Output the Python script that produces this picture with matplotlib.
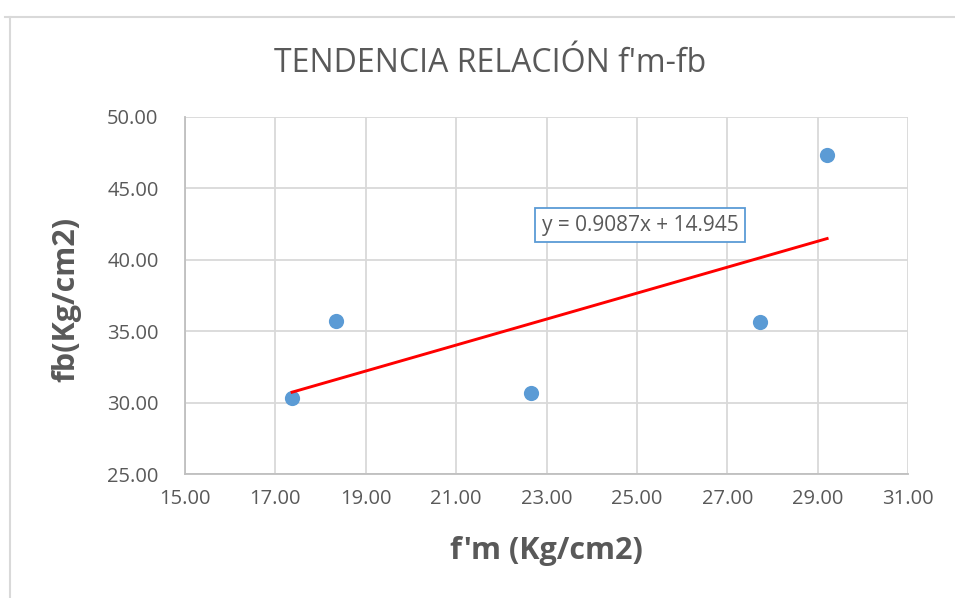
import matplotlib
matplotlib.use("Agg")
import matplotlib.pyplot as plt
from matplotlib.lines import Line2D
import numpy as np

# Data
fm = [17.37, 18.34, 22.66, 27.72, 29.21]
fb = [30.32, 35.71, 30.67, 35.64, 47.35]
slope = 0.9087
intercept = 14.945
x_ticks = [15, 17, 19, 21, 23, 25, 27, 29, 31]
y_ticks = [25, 30, 35, 40, 45, 50]
title = "TENDENCIA RELACIÓN f'm-fb"
xlabel = "f'm (Kg/cm2)"
ylabel = "fb(Kg/cm2)"
eq_text = "y = 0.9087x + 14.945"

W, H = 955, 598
fig = plt.figure(figsize=(W / 100, H / 100), dpi=100)
fig.patch.set_facecolor("white")

# outer chart border (top and left only visible)
fig.add_artist(Line2D([5 / W, 1.0], [1 - 16.5 / H, 1 - 16.5 / H], color="#d9d9d9", lw=1.5))
fig.add_artist(Line2D([9.5 / W, 9.5 / W], [0, 1 - 16.5 / H], color="#d9d9d9", lw=1.5))

ax = fig.add_axes([185 / W, 1 - 474 / H, (908 - 185) / W, (474 - 117) / H])
ax.set_xlim(15, 31)
ax.set_ylim(25, 50)
ax.set_xticks(x_ticks)
ax.set_yticks(y_ticks)
ax.set_xticklabels([f"{v:.2f}" for v in x_ticks])
ax.set_yticklabels([f"{v:.2f}" for v in y_ticks])

ax.grid(True, color="#d9d9d9", lw=1.3, zorder=0)
ax.set_axisbelow(True)
for s in ["top", "right"]:
    ax.spines[s].set_visible(False)
for s in ["left", "bottom"]:
    ax.spines[s].set_color("#bfbfbf")
    ax.spines[s].set_linewidth(1.3)
ax.tick_params(axis="y", length=0, pad=19, labelsize=14.5, colors="#595959")
ax.tick_params(axis="x", length=0, pad=11, labelsize=14.5, colors="#595959")
for lab in ax.get_xticklabels() + ax.get_yticklabels():
    lab.set_family("Open Sans")
    lab.set_color("#595959")

ax.scatter(fm, fb, s=120, color="#5b9bd5", zorder=3, linewidths=0)

xt = np.array([min(fm), max(fm)])
ax.plot(xt, slope * xt + intercept, color="#ff0000", lw=2.1, zorder=4)

ax.text(640 / W, 1 - 225 / H, eq_text, transform=fig.transFigure, ha="center", va="center",
        fontsize=15, color="#595959", family="Open Sans",
        bbox=dict(boxstyle="square,pad=0.3", facecolor="white", edgecolor="#5b9bd5", lw=1.3))

fig.text(490 / W, 1 - 63 / H, title, ha="center", va="center", fontsize=23,
         color="#595959", family="Open Sans")
fig.text(546 / W, 1 - 551 / H, xlabel, ha="center", va="center", fontsize=22,
         color="#595959", family="Open Sans", fontweight="bold")
fig.text(66 / W, 1 - 299 / H, ylabel, ha="center", va="center", fontsize=22, rotation=90,
         color="#595959", family="Open Sans", fontweight="bold")

fig.savefig("out.png", dpi=100)
